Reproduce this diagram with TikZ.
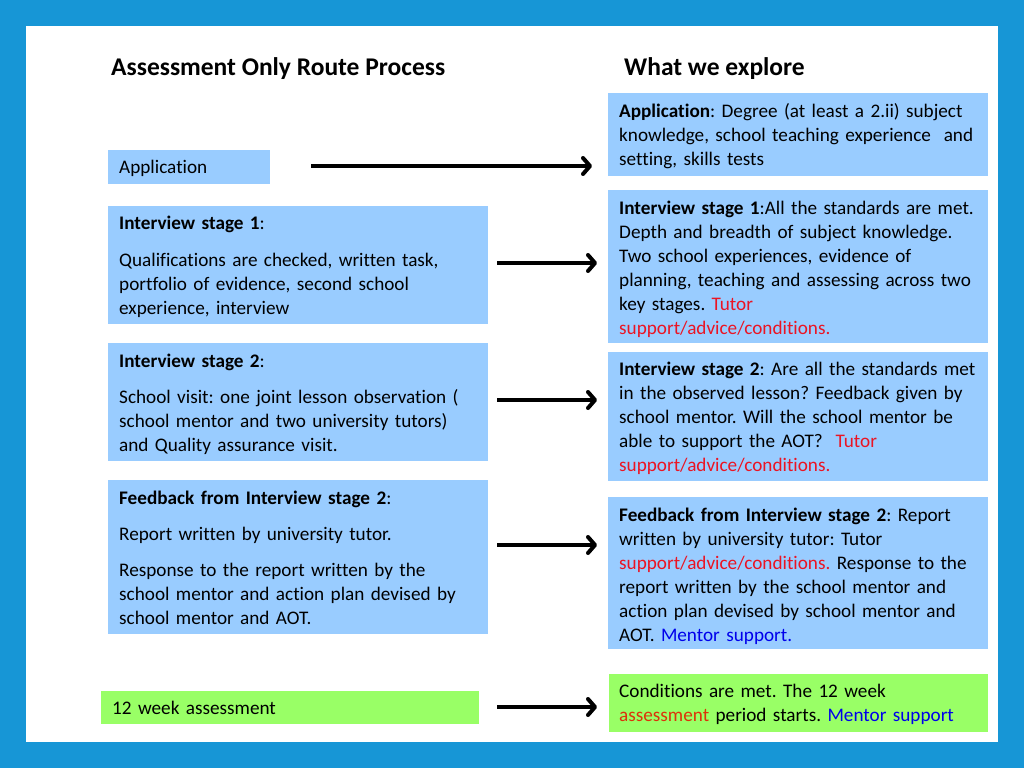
\documentclass[tikz,border=0pt]{standalone}
\usepackage{fontspec}
\setmainfont{Carlito}[Ligatures=CommonOff]
\usetikzlibrary{arrows.meta}
\definecolor{frameblue}{RGB}{23,150,214}
\definecolor{boxblue}{RGB}{153,204,255}
\definecolor{boxgreen}{RGB}{153,255,102}
\definecolor{tred}{RGB}{235,20,35}
\definecolor{ored}{RGB}{220,50,10}
\definecolor{tblue}{RGB}{0,0,235}
\tikzset{
  bluebox/.style={fill=boxblue, draw=none, inner sep=0pt, anchor=north west},
  greenbox/.style={fill=boxgreen, draw=none, inner sep=0pt, anchor=north west},
  txt/.style={anchor=base west, inner sep=0pt, align=left, text width=375pt, font=\fontsize{19.2}{24}\selectfont\frenchspacing},
  ttl/.style={anchor=base west, inner sep=0pt, font=\fontsize{25.5}{30}\selectfont\bfseries},
  flowarrow/.style={line width=4pt, -{Straight Barb[length=7pt,width=16pt,round]}},
}
\begin{document}
\begin{tikzpicture}[x=1pt,y=-1pt]
\useasboundingbox (0,0) rectangle (1024,768);
\fill[frameblue] (0,0) rectangle (1024,768);
\fill[white] (26,26) rectangle (998,742);

% titles
\node[ttl] (t1) at (111,75) {Assessment Only Route Process};
\node[ttl] (t2) at (624,75) {What we explore};

% left boxes
\node[bluebox, minimum width=162pt, minimum height=34pt] (lab) at (108,150) {};
\node[txt] (lat) at (119,173) {Application};

\node[bluebox, minimum width=380pt, minimum height=118pt] (l1b) at (108,206) {};
\node[txt] (l1t) at (119,229) {\textbf{Interview stage 1}:\\[13pt]
Qualifications are checked, written task,\\
portfolio of evidence, second school\\
experience, interview};

\node[bluebox, minimum width=380pt, minimum height=118pt] (l2b) at (108,343) {};
\node[txt] (l2t) at (119,367) {\textbf{Interview stage 2}:\\[12pt]
School visit: one joint lesson observation (\\
school mentor and two university tutors)\\
and Quality assurance visit.};

\node[bluebox, minimum width=380pt, minimum height=154pt] (l3b) at (108,480) {};
\node[txt] (l3t) at (119,504) {\textbf{Feedback from Interview stage 2}:\\[12pt]
Report written by university tutor.\\[12pt]
Response to the report written by the\\
school mentor and action plan devised by\\
school mentor and AOT.};

\node[greenbox, minimum width=378pt, minimum height=33pt] (l4b) at (101,691) {};
\node[txt] (l4t) at (112,714) {12 week assessment};

% right boxes
\node[bluebox, minimum width=380pt, minimum height=83pt] (rab) at (608,93) {};
\node[txt] (rat) at (619,117) {\textbf{Application}: Degree (at least a 2.ii) subject\\
knowledge, school teaching experience\ \ and\\
setting, skills tests};

\node[bluebox, minimum width=380pt, minimum height=153pt] (r1b) at (608,190) {};
\node[txt] (r1t) at (619,214) {\textbf{Interview stage 1}:All the standards are met.\\
Depth and breadth of subject knowledge.\\
Two school experiences, evidence of\\
planning, teaching and assessing across two\\
key stages. \textcolor{tred}{Tutor}\\
\textcolor{tred}{support/advice/conditions.}};

\node[bluebox, minimum width=380pt, minimum height=129pt] (r2b) at (608,352) {};
\node[txt] (r2t) at (619,375) {\textbf{Interview stage 2}: Are all the standards met\\
in the observed lesson? Feedback given by\\
school mentor. Will the school mentor be\\
able to support the AOT?\ \ \textcolor{tred}{Tutor}\\
\textcolor{tred}{support/advice/conditions.}};

\node[bluebox, minimum width=380pt, minimum height=152pt] (r3b) at (608,497) {};
\node[txt] (r3t) at (619,521) {\textbf{Feedback from Interview stage 2}: Report\\
written by university tutor: Tutor\\
\textcolor{tred}{support/advice/conditions.} Response to the\\
report written by the school mentor and\\
action plan devised by school mentor and\\
AOT. \textcolor{tblue}{Mentor support.}};

\node[greenbox, minimum width=379pt, minimum height=58pt] (r4b) at (609,674) {};
\node[txt] (r4t) at (619,697) {Conditions are met. The 12 week\\
\textcolor{ored}{assessment} period starts. \textcolor{tblue}{Mentor support}};

% arrows
\coordinate (a0s) at (311,166); \coordinate (a0e) at (592,166);
\coordinate (a1s) at (497,263); \coordinate (a1e) at (597,263);
\coordinate (a2s) at (497,400); \coordinate (a2e) at (597,400);
\coordinate (a3s) at (497,545); \coordinate (a3e) at (597,545);
\coordinate (a4s) at (497,707); \coordinate (a4e) at (597,707);
\draw[flowarrow] (a0s) -- (a0e);
\draw[flowarrow] (a1s) -- (a1e);
\draw[flowarrow] (a2s) -- (a2e);
\draw[flowarrow] (a3s) -- (a3e);
\draw[flowarrow] (a4s) -- (a4e);
\end{tikzpicture}
\end{document}
